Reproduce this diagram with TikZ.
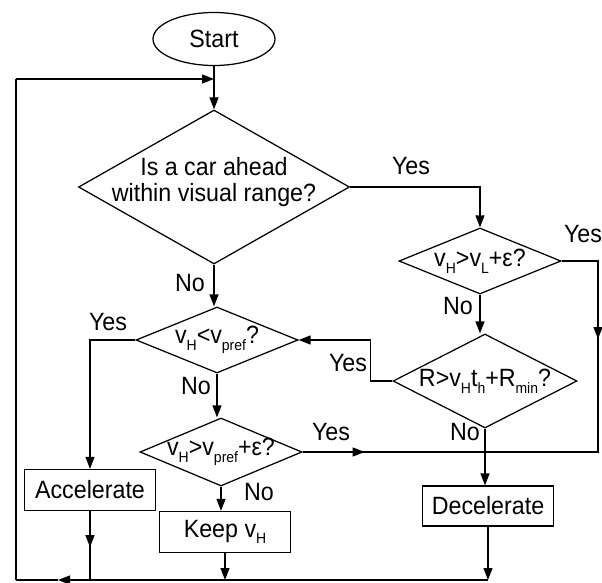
\documentclass[tikz,border=0pt]{standalone}
\usepackage{fontspec}
\setmainfont{Liberation Sans}[FakeStretch=0.93]
\usetikzlibrary{shapes.geometric,arrows.meta}
\newcommand{\lsub}[1]{\raisebox{-0.5ex}{\fontsize{15}{15}\selectfont #1}}

\begin{document}
\begin{tikzpicture}[x=1pt,y=-1pt,line width=1.25pt,
  every node/.style={font=\fontsize{25}{26}\selectfont},
  arr/.style={-{Triangle[length=12pt,width=9pt]}},
  test/.style={draw,diamond,inner sep=0pt},
  act/.style={draw,rectangle,inner sep=0pt,minimum width=131pt,minimum height=41pt},
  txt/.style={inner sep=0pt,align=center}]
\useasboundingbox (0,0) rectangle (602,583);
\node[draw,ellipse,minimum width=122pt,minimum height=53pt,inner sep=0pt] (start) at (214,39) {Start};
\node[test,minimum width=271pt,minimum height=154pt] (visual) at (214,187) {};
\node[txt] (visual-t) at (214,182) {Is a car ahead\\within visual range?};
\node[test,minimum width=162pt,minimum height=66pt] (lead) at (480,261) {};
\node[txt] (lead-t) at (lead) {v\lsub{H}>v\lsub{L}+ε?};
\node[test,minimum width=162pt,minimum height=66pt] (pref) at (217,340) {};
\node[txt] (pref-t) at (pref) {v\lsub{H}<v\lsub{pref}?};
\node[test,minimum width=184pt,minimum height=94pt] (gap) at (485,381) {};
\node[txt] (gap-t) at (gap) {R>v\lsub{H}t\lsub{h}+R\lsub{min}?};
\node[test,minimum width=162pt,minimum height=68pt] (over) at (221,452) {};
\node[txt] (over-t) at (over) {v\lsub{H}>v\lsub{pref}+ε?};
\node[act] (acc) at (90,490) {Accelerate};
\node[act] (keep) at (225,532) {Keep v\lsub{H}};
\node[act,minimum height=40pt] (dec) at (488,506) {Decelerate};
\node[txt] (y1) at (411,166) {Yes};
\node[txt] (n1) at (190,283) {No};
\node[txt] (y2) at (583,234) {Yes};
\node[txt] (n2) at (458,306) {No};
\node[txt] (y3) at (108,322) {Yes};
\node[txt] (y4) at (348,363) {Yes};
\node[txt] (n3) at (196,386) {No};
\node[txt] (y5) at (331,432) {Yes};
\node[txt] (n4) at (465,432) {No};
\node[txt] (n5) at (259,492) {No};
\coordinate (loopT) at (214,79);
\coordinate (topL) at (16,79);
\coordinate (botL) at (16,580);
\coordinate (botA) at (58,580);
\coordinate (rtop) at (598,261);
\coordinate (rbot) at (598,452);
\coordinate (jdec) at (gap.south |- over.east);
\draw[arr] (start) -- (visual);
\draw (botL) -- (topL);
\draw[arr] (topL) -- (loopT);
\draw[arr] (visual.east) -| (lead.north);
\draw[arr] (visual.south) -- (visual.south |- pref.north);
\draw[arr] (lead.south) -- (lead.south |- gap.north);
\draw[arr] (pref.west) -| (acc.north);
\draw[arr] (pref.south) -- (pref.south |- over.north);
\draw[arr] (gap.west) -- ++(-22,0) |- (pref.east);
\draw[arr] (gap.south) -- (gap.south |- dec.north);
\draw[arr] (over.south) -- (over.south |- keep.north);
\draw[arr] (over.east) -- ++(62,0);
\draw (over.east) -- (jdec);
\draw (lead.east) -- (rtop) -- (rbot) -- (jdec);
\draw[arr] (rtop) -- ++(0,78);
\draw[arr] (acc.south) -- ++(0,36);
\draw (acc.south) -- (acc.south |- botL);
\draw[arr] (keep.south) -- (keep.south |- botL);
\draw[arr] (dec.south) -- (dec.south |- botL);
\draw[arr] (dec.south |- botL) -- (botA);
\draw (botA) -- (botL);
\end{tikzpicture}
\end{document}
